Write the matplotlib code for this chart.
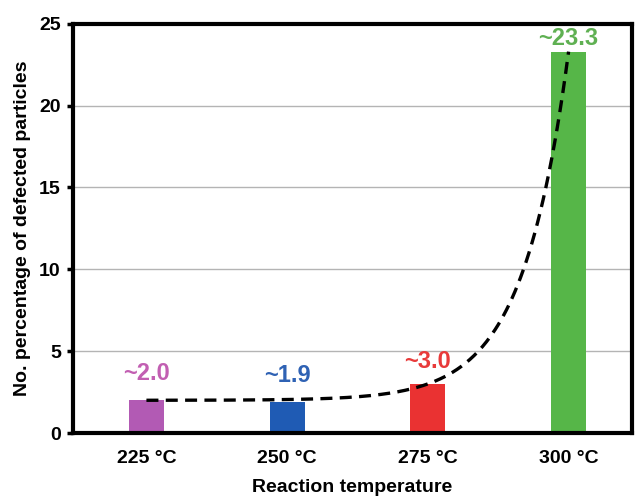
"""Bar chart of defected particle percentage versus reaction temperature."""

import matplotlib

matplotlib.use("Agg")
import matplotlib.pyplot as plt
import numpy as np

TEMPERATURES = ["225 °C", "250 °C", "275 °C", "300 °C"]
DEFECT_PERCENT = [2.0, 1.9, 3.0, 23.3]
VALUE_LABELS = ["~2.0", "~1.9", "~3.0", "~23.3"]

BAR_COLORS = ["#b25ab4", "#1f5bb4", "#ea3232", "#56b648"]
TEXT_COLORS = ["#c25fb2", "#2f62b4", "#e83a3a", "#5fb052"]
LABEL_OFFSETS = [11, 11, 8, 1]

plt.rcParams["font.family"] = ["Liberation Sans", "DejaVu Sans"]
plt.rcParams["font.weight"] = "bold"


def trend_curve(values, num=300):
    """Offset exponential y = c + b*exp(k*x) through the first and last two bars."""
    y0, y2, y3 = values[0], values[2], values[3]
    # (u^3 - 1) / (u^2 - 1) = r  ->  u^2 + (1 - r) u + (1 - r) = 0
    r = (y3 - y0) / (y2 - y0)
    u = ((r - 1) + np.sqrt((r - 1) ** 2 + 4 * (r - 1))) / 2
    b = (y2 - y0) / (u**2 - 1)
    c = y0 - b
    xs = np.linspace(0, len(values) - 1, num)
    return xs, c + b * u**xs


fig = plt.figure(figsize=(6.37, 4.96), dpi=100)
ax = fig.add_axes([0.115, 0.127, 0.877, 0.825])

x = np.arange(len(TEMPERATURES))
ax.bar(x, DEFECT_PERCENT, width=0.25, color=BAR_COLORS, zorder=2)

xs, ys = trend_curve(DEFECT_PERCENT)
(line,) = ax.plot(xs, ys, color="black", linewidth=2.4, zorder=3)
line.set_dashes([3.6, 2.2])

for xi, val, text, color, off in zip(x, DEFECT_PERCENT, VALUE_LABELS, TEXT_COLORS, LABEL_OFFSETS):
    ax.annotate(
        text,
        (xi, val),
        xytext=(0, off),
        textcoords="offset points",
        ha="center",
        va="bottom",
        color=color,
        fontsize=17,
        fontweight="bold",
        zorder=4,
    )

ax.set_xlim(-0.52, 3.45)
ax.set_ylim(0, 25)
ax.set_yticks([0, 5, 10, 15, 20, 25])
ax.set_xticks(x)
ax.set_xticklabels(TEMPERATURES)
ax.yaxis.grid(True, color="#b4b4b4", linewidth=1.0, zorder=0)
ax.set_axisbelow(True)

for spine in ax.spines.values():
    spine.set_linewidth(3)
    spine.set_color("black")

ax.tick_params(axis="y", direction="out", length=4, width=2.5, pad=5, labelsize=14)
ax.tick_params(axis="x", length=0, pad=12, labelsize=14)
ax.set_ylabel("No. percentage of defected particles", fontsize=14, fontweight="bold", labelpad=6)
ax.set_xlabel("Reaction temperature", fontsize=14, fontweight="bold", labelpad=9)

fig.savefig("out.png", dpi=100)
